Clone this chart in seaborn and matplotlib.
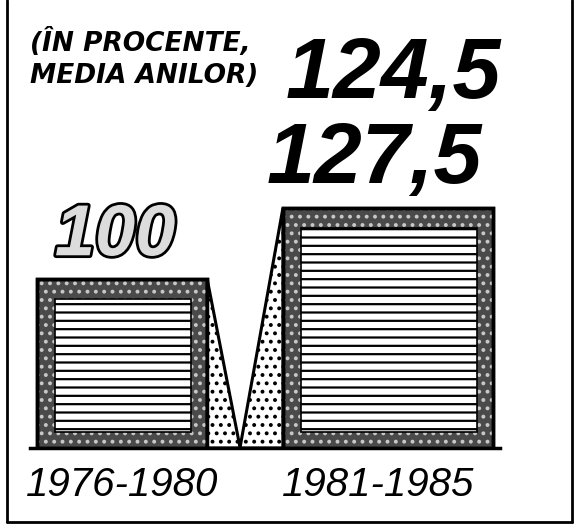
import pandas as pd
import matplotlib
matplotlib.use("Agg")
import matplotlib.pyplot as plt
import matplotlib.patheffects as pe
import matplotlib.transforms as mtransforms
import seaborn as sns
from matplotlib.patches import Rectangle, Polygon
from matplotlib.lines import Line2D

# data
periods = ["1976-1980", "1981-1985"]
values = [100, 127.5]
value_labels = ["100", "127,5"]
low_labels = ["", "124,5"]   # lower end of the planned range
title = "(ÎN PROCENTE,\nMEDIA ANILOR)"

sns.set_theme(style="white")
plt.rcParams["font.family"] = ["Liberation Sans", "DejaVu Sans"]
plt.rcParams["hatch.linewidth"] = 1.6

W, H = 578, 530
fig = plt.figure(figsize=(W / 100, H / 100), dpi=100)
fig.patch.set_facecolor("white")

# axes box: x 30..500 px, baseline at y=448 px
ax = fig.add_axes([30 / W, (H - 448) / H, 470 / W, (448 - 180) / H])
ax.set_facecolor("white")

df = pd.DataFrame({"period": periods, "value": values})
sns.barplot(data=df, x="period", y="value", color="#4a4a4a", width=0.7,
            edgecolor="black", linewidth=2.5, ax=ax, zorder=2)
ax.set_xlim(-0.346, 1.421)
ax.set_ylim(34.5, 138.3)

# size helpers: data units per pixel
px = (ax.get_xlim()[1] - ax.get_xlim()[0]) / 470
py = (ax.get_ylim()[1] - ax.get_ylim()[0]) / 268
base = ax.get_ylim()[0]

bar_widths = [0.64, 0.79]
bars = list(ax.patches[:len(values)])
for i, p in enumerate(bars):
    c = p.get_x() + p.get_width() / 2
    p.set_width(bar_widths[i])
    p.set_x(c - bar_widths[i] / 2)

for i, p in enumerate(bars):
    x0, w, h = p.get_x(), p.get_width(), p.get_height()
    # speckled frame
    ax.add_patch(Rectangle((x0, base), w, h - base, facecolor="none",
                           edgecolor="#c8c8c8", hatch="..", lw=0, zorder=3))
    # inner panel with horizontal rules
    ax.add_patch(Rectangle((x0 + 18 * px, base + 16 * py), w - 34 * px, h - base - 36 * py,
                           facecolor="white", edgecolor="black", hatch="--", lw=1.2, zorder=4))
    ax.add_patch(Rectangle((x0, base), w, h - base, facecolor="none",
                           edgecolor="black", lw=2.5, zorder=5))
    # dotted side wedges (3d effect)
    if i == 0:
        xr = x0 + w
        pts = [(xr, h), (xr + 33 * px, base), (xr, base)]
    else:
        pts = [(x0, h), (x0 - 43 * px, base), (x0, base)]
    ax.add_patch(Polygon(pts, closed=True, facecolor="white", edgecolor="black",
                         hatch="..", lw=2.2, zorder=3))

hand = dict(family=["Liberation Sans", "DejaVu Sans"], weight="bold", style="italic")

for i, p in enumerate(bars):
    c = p.get_x() + p.get_width() / 2
    h = p.get_height()
    if i == 0:
        ax.annotate(value_labels[i], (c, h), xytext=(-5, 17), textcoords="offset points",
                    ha="center", va="baseline", fontsize=52, color="#dcdcdc",
                    path_effects=[pe.withStroke(linewidth=4, foreground="black")],
                    annotation_clip=False, **hand)
    else:
        ax.annotate(value_labels[i], (c, h), xytext=(-10, 18), textcoords="offset points",
                    ha="center", va="baseline", fontsize=62, color="black",
                    annotation_clip=False, **hand)
        ax.annotate(low_labels[i], (c, h), xytext=(4, 79), textcoords="offset points",
                    ha="center", va="baseline", fontsize=62, color="black",
                    annotation_clip=False, **hand)

fig.text(30 / W, 1 - 28 / H, title, ha="left", va="top", fontsize=19, color="black",
         family="DejaVu Sans", weight="bold", style="italic", linespacing=1.3)

ax.set_xlabel("")
ax.set_ylabel("")
ax.set_yticks([])
ax.tick_params(axis="x", length=0, pad=13)
shift = mtransforms.ScaledTranslation(-10 / 100, 0, fig.dpi_scale_trans)
for k, lab in enumerate(ax.get_xticklabels()):
    lab.set_fontsize(29)
    lab.set_fontfamily(["Liberation Sans", "DejaVu Sans"])
    lab.set_style("italic")
    lab.set_color("black")
    if k == 1:
        lab.set_transform(lab.get_transform() + shift)
for s in ["left", "right", "top"]:
    ax.spines[s].set_visible(False)
ax.spines["bottom"].set_linewidth(2.5)
ax.spines["bottom"].set_color("black")
ax.spines["bottom"].set_zorder(6)

# outer frame of the clipping
for xs, ys in [([7, 7], [0, 522]), ([572, 572], [0, 522]), ([7, 572], [522, 522])]:
    fig.add_artist(Line2D([x / W for x in xs], [1 - y / H for y in ys],
                          color="black", lw=2, transform=fig.transFigure))

fig.savefig("out.png", dpi=100, facecolor="white")
